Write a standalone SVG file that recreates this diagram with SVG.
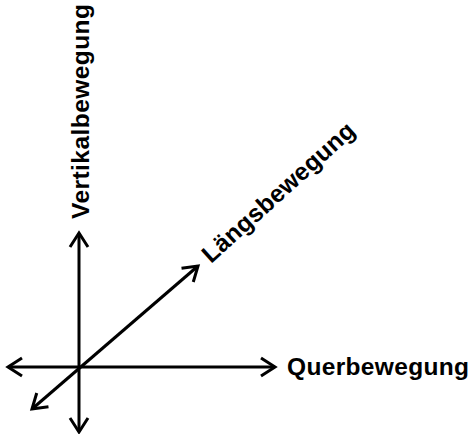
<svg xmlns="http://www.w3.org/2000/svg" width="472" height="434" viewBox="0 0 472 434">
<style>
.ax{stroke:#000;stroke-width:3;fill:none}
.lbl{font-family:"Liberation Sans",Arial,sans-serif;font-weight:bold;font-size:24.5px;fill:#000}
</style>
<defs>
<marker id="ah" markerUnits="userSpaceOnUse" markerWidth="30" markerHeight="30" viewBox="-20 -15 30 30" refX="0" refY="0" orient="auto-start-reverse" overflow="visible">
<path d="M-14,-9 L0,0 L-14,9" fill="none" stroke="#000" stroke-width="3" stroke-linejoin="miter"/>
</marker>
</defs>
<rect width="472" height="434" fill="#fff"/>
<g id="connectors">
<line class="ax" x1="8" y1="367" x2="275" y2="367" marker-start="url(#ah)" marker-end="url(#ah)"/>
<line class="ax" x1="79" y1="432" x2="79" y2="233" marker-start="url(#ah)" marker-end="url(#ah)"/>
<line class="ax" x1="32" y1="409" x2="198" y2="266" marker-start="url(#ah)" marker-end="url(#ah)"/>
</g>
<g id="querbewegung">
<text class="lbl" x="287" y="375" textLength="182" lengthAdjust="spacing">Querbewegung</text>
</g>
<g id="vertikalbewegung">
<text class="lbl" transform="translate(89,219) rotate(-90)" x="0" y="0" textLength="215" lengthAdjust="spacing">Vertikalbewegung</text>
</g>
<g id="laengsbewegung">
<text class="lbl" transform="translate(211,264) rotate(-42)" x="0" y="0" textLength="196" lengthAdjust="spacing">Längsbewegung</text>
</g>
</svg>
